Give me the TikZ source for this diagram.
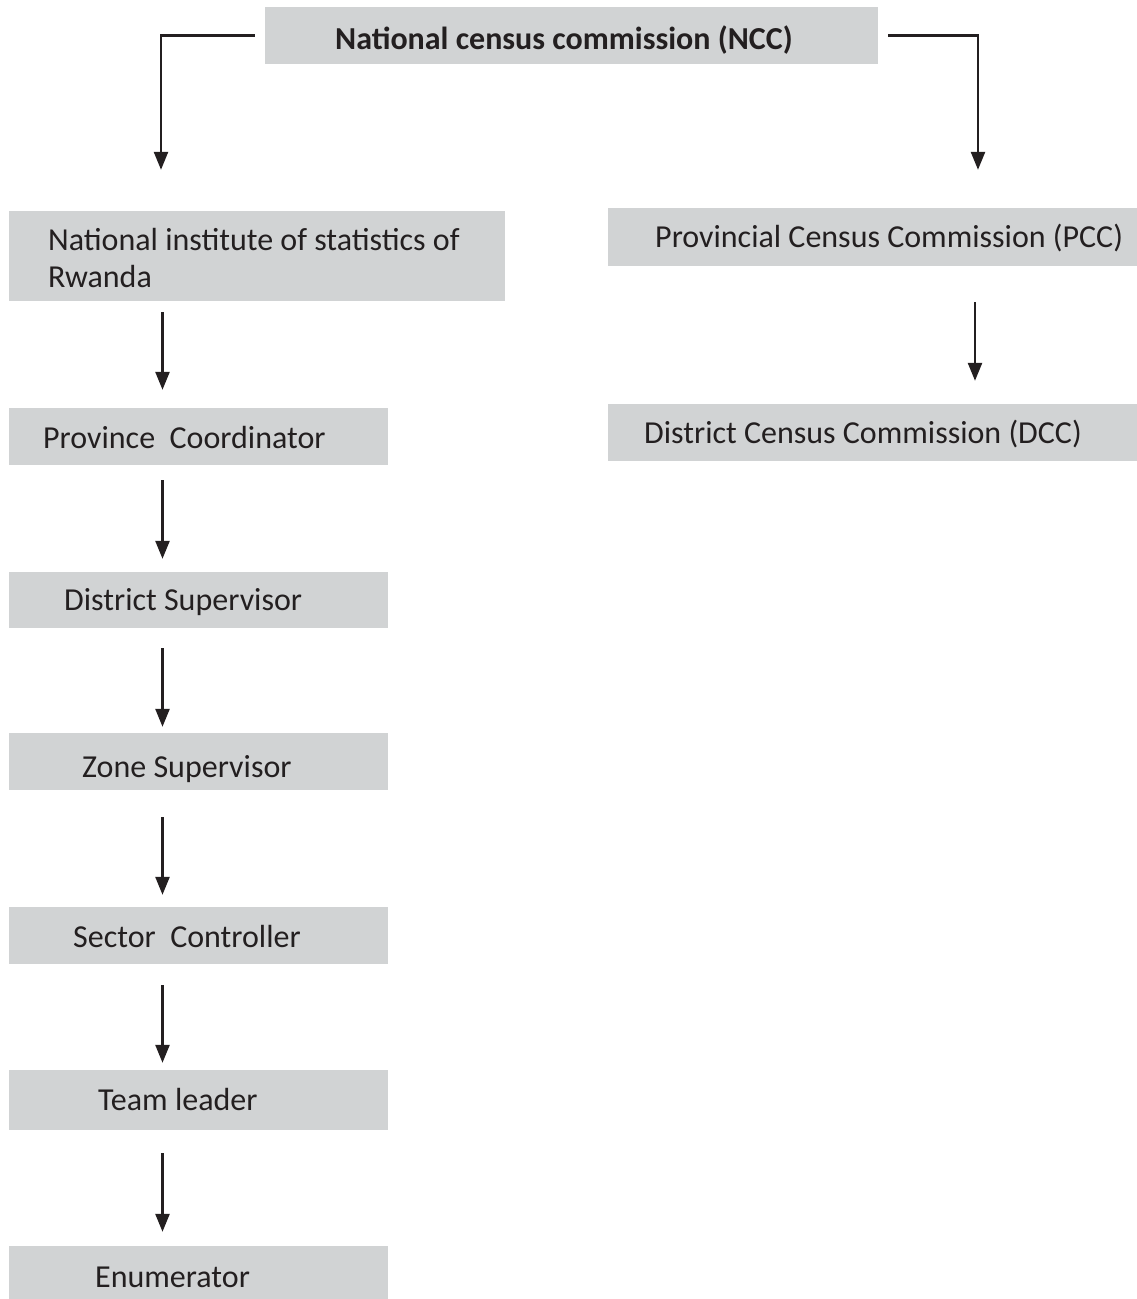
\documentclass[tikz,border=0pt]{standalone}
\usepackage{fontspec}
\setmainfont{Carlito}
\usetikzlibrary{arrows.meta}
\definecolor{boxgray}{HTML}{D1D3D4}
\definecolor{ink}{HTML}{231F20}
\tikzset{
  box/.style={draw=none, fill=boxgray, inner sep=0pt, rectangle},
  txt/.style={inner sep=0pt, anchor=base west, text=ink, font=\fontsize{32}{37}\selectfont},
  btxt/.style={txt, font=\fontsize{32}{37}\selectfont\bfseries},
  arr/.style={draw=ink, line width=2.5pt, -{Triangle[width=14pt,length=18pt]}},
}
\begin{document}
\begin{tikzpicture}[x=1pt,y=-1pt]
\useasboundingbox (0,0) rectangle (1137,1299);
% boxes (centre, width, height)
\node[box, minimum width=613, minimum height=57] (ncc) at (571.5,35.5) {};
\node[box, minimum width=496, minimum height=90] (nisr) at (257,256) {};
\node[box, minimum width=529, minimum height=58] (pcc) at (872.5,237) {};
\node[box, minimum width=529, minimum height=57] (dcc) at (872.5,432.5) {};
\node[box, minimum width=379, minimum height=57] (prov) at (198.5,436.5) {};
\node[box, minimum width=379, minimum height=56] (ds) at (198.5,600) {};
\node[box, minimum width=379, minimum height=57] (zone) at (198.5,761.5) {};
\node[box, minimum width=379, minimum height=57] (sector) at (198.5,935.5) {};
\node[box, minimum width=379, minimum height=60] (team) at (198.5,1100) {};
\node[box, minimum width=379, minimum height=53] (enum) at (198.5,1272.5) {};
% texts
\node[btxt] (ncc-t) at (335,49) {National census commission (NCC)};
\node[txt] (nisr-t1) at (48,250) {National institute of statistics of};
\node[txt] (nisr-t2) at (48,287) {Rwanda};
\node[txt] (pcc-t) at (655,247) {Provincial Census Commission (PCC)};
\node[txt] (dcc-t) at (644,443) {District Census Commission (DCC)};
\node[txt] (prov-t) at (43,448) {Province\ \ Coordinator};
\node[txt] (ds-t) at (64,610) {District Supervisor};
\node[txt] (zone-t) at (82,777) {Zone Supervisor};
\node[txt] (sector-t) at (73,947) {Sector\ \ Controller};
\node[txt] (team-t) at (98,1110) {Team leader};
\node[txt] (enum-t) at (95,1287) {Enumerator};
% connector columns
\coordinate (lx) at (161,0);
\coordinate (rx) at (978,0);
\coordinate (cx) at (162.5,0);
\coordinate (px) at (975,0);
% connectors
\draw[arr, shorten <=10pt, shorten >=41pt] (ncc.west) -| (nisr.north -| lx);
\draw[arr, shorten <=10pt, shorten >=38pt] (ncc.east) -| (pcc.north -| rx);
\draw[arr, shorten <=36pt, shorten >=23pt] (pcc.south -| px) -- (dcc.north -| px);
\draw[arr, shorten <=11pt, shorten >=18pt] (nisr.south -| cx) -- (prov.north -| cx);
\draw[arr, shorten <=15pt, shorten >=13pt] (prov.south -| cx) -- (ds.north -| cx);
\draw[arr, shorten <=20pt, shorten >=6pt] (ds.south -| cx) -- (zone.north -| cx);
\draw[arr, shorten <=27pt, shorten >=12pt] (zone.south -| cx) -- (sector.north -| cx);
\draw[arr, shorten <=21pt, shorten >=7pt] (sector.south -| cx) -- (team.north -| cx);
\draw[arr, shorten <=23pt, shorten >=14pt] (team.south -| cx) -- (enum.north -| cx);
\end{tikzpicture}
\end{document}
